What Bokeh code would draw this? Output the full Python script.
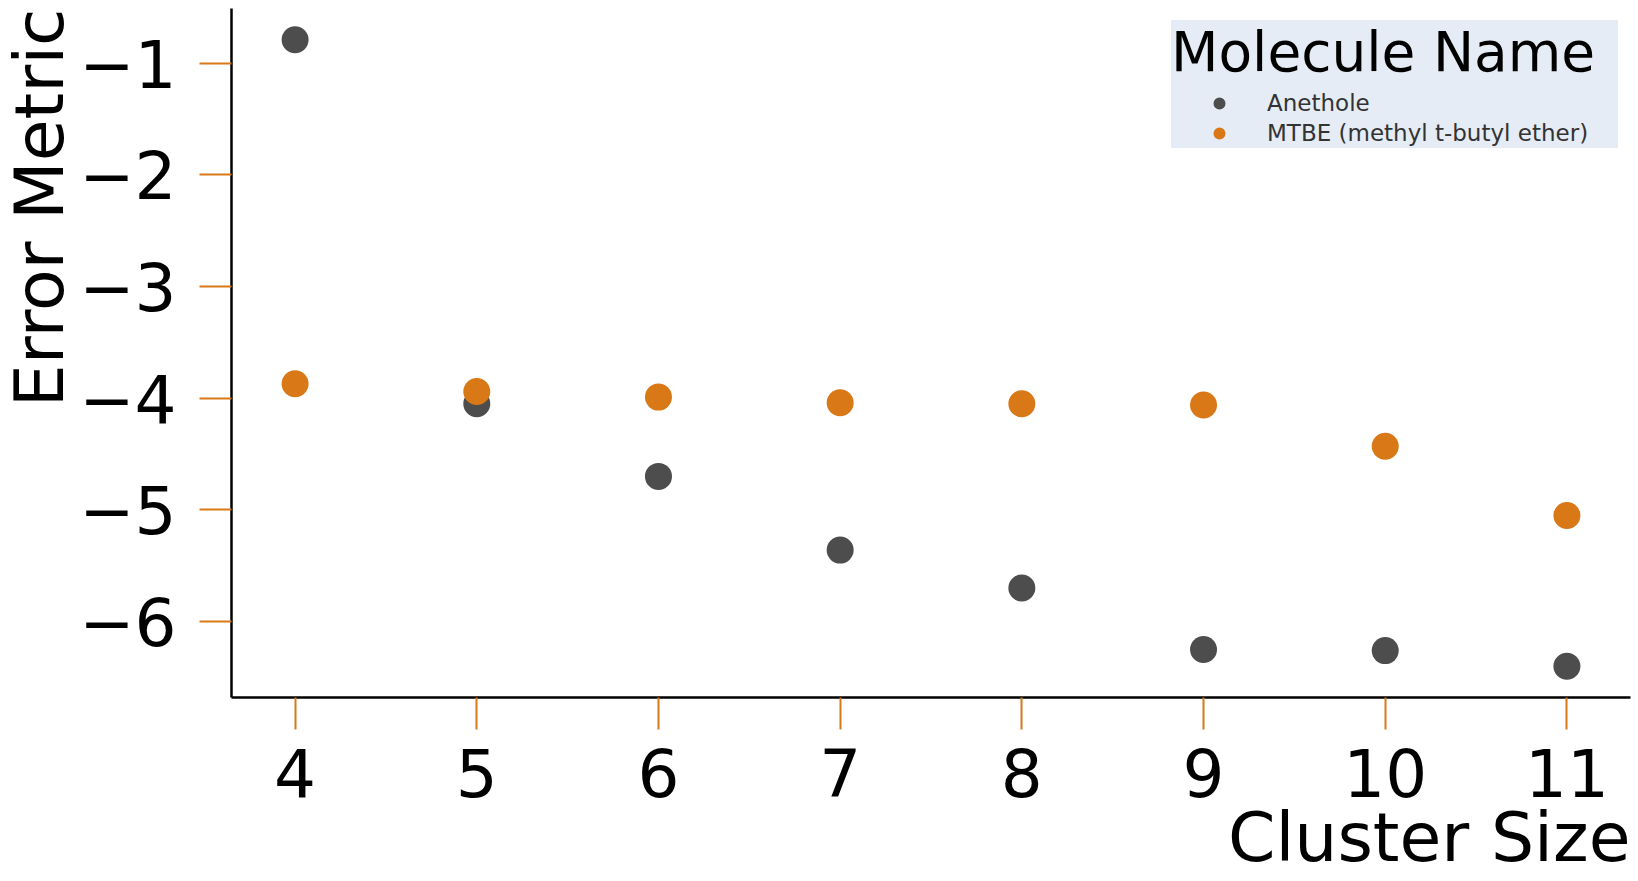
from bokeh.plotting import figure
from bokeh.models import Legend, LegendItem, FixedTicker, CustomJSTickFormatter, ColumnDataSource, Title
from bokeh.embed import file_html
from bokeh.resources import INLINE

# ---- data ----
cluster_size = [4, 5, 6, 7, 8, 9, 10, 11]
anethole = [-0.79, -4.05, -4.70, -5.36, -5.70, -6.25, -6.26, -6.40]
mtbe = [-3.87, -3.94, -3.99, -4.04, -4.05, -4.06, -4.43, -5.05]
series_names = ["Anethole", "MTBE (methyl t-butyl ether)"]
series_colors = ["#4D4D4D", "#D97817"]
x_ticks = [4, 5, 6, 7, 8, 9, 10, 11]
y_ticks = [-6, -5, -4, -3, -2, -1]
x_label = "Cluster Size"
y_label = "Error Metric"
legend_title = "Molecule Name"

FONT = "DejaVu Sans"
TICK_COLOR = "#D97817"

p = figure(width=1638, height=881, x_range=(3.65, 11.35), y_range=(-6.68, -0.51),
           output_backend="svg", toolbar_location=None,
           min_border_left=0, min_border_bottom=184, min_border_top=8, min_border_right=8)
p.outline_line_color = None
p.xgrid.visible = False
p.ygrid.visible = False
p.background_fill_color = "white"

renderers = []
for vals, col in zip([anethole, mtbe], series_colors):
    src = ColumnDataSource(dict(x=cluster_size, y=vals))
    r = p.scatter("x", "y", source=src, size=27, fill_color=col, line_color=None)
    renderers.append(r)

minus_fmt = CustomJSTickFormatter(code="return tick < 0 ? '\\u2212' + Math.abs(tick) : String(tick);")

for ax, ticks in ((p.xaxis[0], x_ticks), (p.yaxis[0], y_ticks)):
    ax.ticker = FixedTicker(ticks=ticks)
    ax.formatter = minus_fmt
    ax.axis_line_color = "black"
    ax.axis_line_width = 2.5
    ax.major_tick_line_color = TICK_COLOR
    ax.major_tick_line_width = 2
    ax.major_tick_out = 32
    ax.major_tick_in = 0
    ax.minor_tick_line_color = None
    ax.major_label_text_font = FONT
    ax.major_label_text_font_size = "66px"
    ax.major_label_text_color = "black"

p.xaxis[0].major_label_standoff = 18
p.yaxis[0].major_label_standoff = 23

title_style = dict(align="right", text_font=FONT, text_font_size="68px",
                   text_font_style="normal", text_color="black", offset=0)
p.add_layout(Title(text=x_label, standoff=-8, **title_style), "below")
p.add_layout(Title(text=y_label, standoff=-5, **title_style), "left")

legend = Legend(items=[LegendItem(label=n, renderers=[r]) for n, r in zip(series_names, renderers)],
                title=legend_title, location="top_right")
legend.background_fill_color = "#E5ECF6"
legend.background_fill_alpha = 1
legend.border_line_color = None
legend.padding = 12
legend.margin = 12
legend.title_text_font = FONT
legend.title_text_font_size = "55px"
legend.title_text_font_style = "normal"
legend.title_text_color = "black"
legend.title_standoff = 4
legend.label_text_font = FONT
legend.label_text_font_size = "23px"
legend.label_text_color = "#333333"
legend.glyph_width = 96
legend.glyph_height = 30
legend.label_height = 28
legend.label_width = 351
legend.spacing = 0
legend.label_standoff = 0
p.add_layout(legend)

open("out.html", "w").write(file_html(p, INLINE))
